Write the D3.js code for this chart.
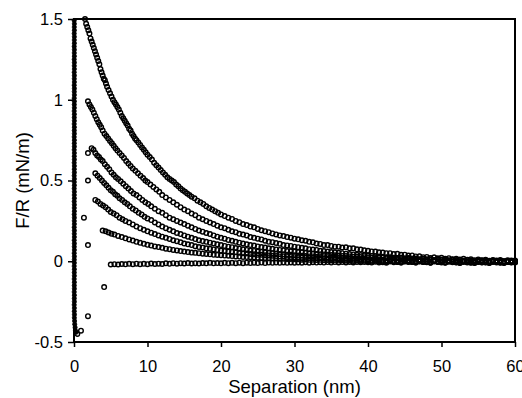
<!DOCTYPE html>
<html>
<head>
<meta charset="utf-8">
<script src="https://cdn.jsdelivr.net/npm/d3@7"></script>
<style>
  body { margin: 0; background: #fff; }
  svg { display: block; font-family: "Liberation Sans", Arial, sans-serif; }
</style>
</head>
<body>
<div id="chart"></div>
<script>
const xTicks = [0, 10, 20, 30, 40, 50, 60]
const yTicks = [-0.5, 0, 0.5, 1, 1.5]
const xLabel = "Separation (nm)"
const yLabel = "F/R (mN/m)"

// hard contact branch, [separation nm, F/R mN/m]
const contact = [[0.3,-0.44],[0.2,-0.43],[0.15,-0.41],[0.1,-0.39],[0.08,-0.37],[0.05,-0.35],[0.06,-0.33],[0.04,-0.31],[0.05,-0.29],[0.03,-0.27],[0.05,-0.25],[0.04,-0.23],[0.05,-0.21],[0.03,-0.19],[0.05,-0.17],[0.04,-0.15],[0.05,-0.13],[0.03,-0.11],[0.05,-0.09],[0.04,-0.07],[0.05,-0.05],[0.03,-0.03],[0.05,-0.01],[0.04,0.01],[0.05,0.03],[0.03,0.05],[0.05,0.07],[0.04,0.09],[0.05,0.11],[0.03,0.13],[0.05,0.15],[0.04,0.17],[0.05,0.19],[0.03,0.21],[0.05,0.23],[0.04,0.25],[0.05,0.27],[0.03,0.29],[0.05,0.31],[0.04,0.33],[0.05,0.35],[0.03,0.37],[0.05,0.39],[0.04,0.41],[0.05,0.43],[0.03,0.45],[0.05,0.47],[0.04,0.49],[0.05,0.51],[0.03,0.53],[0.05,0.55],[0.04,0.57],[0.05,0.59],[0.03,0.61],[0.05,0.63],[0.04,0.65],[0.05,0.67],[0.03,0.69],[0.05,0.71],[0.04,0.73],[0.05,0.75],[0.03,0.77],[0.05,0.79],[0.04,0.81],[0.05,0.83],[0.03,0.85],[0.05,0.87],[0.04,0.89],[0.05,0.91],[0.03,0.93],[0.05,0.95],[0.04,0.97],[0.05,0.99],[0.03,1.01],[0.05,1.03],[0.04,1.05],[0.05,1.07],[0.03,1.09],[0.05,1.11],[0.04,1.13],[0.05,1.15],[0.03,1.17],[0.05,1.19],[0.04,1.21],[0.05,1.23],[0.03,1.25],[0.05,1.27],[0.04,1.29],[0.05,1.31],[0.03,1.33],[0.05,1.35],[0.04,1.37],[0.05,1.39],[0.03,1.41],[0.05,1.43],[0.04,1.45],[0.05,1.47],[0.03,1.49]]

// isolated jump-in points
const jumpIn = [[1.9,0.67],[1.9,0.5],[1.35,0.27],[1.9,0.1],[4.1,-0.16],[1.9,-0.34],[0.95,-0.43],[0.45,-0.45]]

const curve1 = [[1.5,1.5],[1.65,1.47],[1.8,1.45],[1.95,1.43],[2.1,1.41],[2.25,1.38],[2.4,1.36],[2.55,1.34],[2.7,1.32],[2.85,1.3],[3.0,1.28],[3.15,1.26],[3.3,1.24],[3.45,1.22],[3.6,1.19],[3.75,1.17],[3.9,1.15],[4.05,1.13],[4.2,1.12],[4.35,1.1],[4.5,1.08],[4.7,1.06],[4.9,1.04],[5.1,1.02],[5.3,1.0],[5.5,0.985],[5.7,0.97],[5.9,0.955],[6.1,0.94],[6.3,0.92],[6.5,0.9],[6.7,0.885],[6.9,0.87],[7.1,0.855],[7.3,0.84],[7.5,0.82],[7.7,0.81],[7.9,0.79],[8.1,0.775],[8.3,0.76],[8.5,0.75],[8.75,0.735],[9.0,0.72],[9.25,0.705],[9.5,0.69],[9.75,0.675],[10.0,0.66],[10.3,0.645],[10.6,0.63],[10.9,0.61],[11.2,0.595],[11.5,0.58],[11.8,0.565],[12.1,0.55],[12.4,0.535],[12.7,0.52],[13.0,0.51],[13.3,0.5],[13.6,0.49],[13.9,0.475],[14.2,0.465],[14.5,0.45],[14.8,0.44],[15.1,0.43],[15.4,0.42],[15.7,0.41],[16.0,0.4],[16.4,0.39],[16.8,0.375],[17.2,0.365],[17.6,0.355],[18.0,0.34],[18.4,0.33],[18.8,0.32],[19.2,0.31],[19.6,0.3],[20.0,0.29],[20.5,0.28],[21.0,0.27],[21.5,0.262],[22.0,0.25],[22.5,0.242],[23.0,0.23],[23.5,0.224],[24.0,0.215],[24.5,0.21],[25.0,0.2],[25.5,0.192],[26.0,0.186],[26.5,0.18],[27.0,0.172],[27.5,0.166],[28.0,0.16],[28.5,0.156],[29.0,0.15],[29.5,0.146],[30.0,0.14],[30.5,0.136],[31.0,0.13],[31.5,0.127],[32.0,0.12],[32.5,0.117],[33.0,0.11],[33.5,0.107],[34.0,0.1],[34.5,0.1],[35.0,0.095],[35.5,0.09],[36.0,0.09],[36.5,0.085],[37.0,0.086],[37.5,0.08],[38.0,0.08],[38.5,0.074],[39.0,0.072],[39.5,0.068],[40.0,0.065],[40.5,0.061],[41.0,0.06],[41.5,0.055],[42.0,0.054],[42.5,0.05],[43.0,0.05],[43.5,0.045],[44.0,0.046],[44.5,0.04],[45.0,0.041],[45.5,0.035],[46.0,0.036],[46.5,0.03],[47.0,0.031],[47.5,0.025],[48.0,0.027],[48.5,0.02],[49.0,0.024],[49.5,0.018],[50.0,0.021],[50.5,0.015],[51.0,0.019],[51.5,0.013],[52.0,0.016],[52.5,0.011],[53.0,0.015],[53.5,0.009],[54.0,0.013],[54.5,0.006],[55.0,0.011],[55.5,0.005],[56.0,0.01],[56.5,0.003],[57.0,0.008],[57.5,0.002],[58.0,0.007],[58.5,0.001],[59.0,0.006],[59.5,0.0],[60.0,0.004]]

const curve2 = [[1.9,0.99],[2.1,0.97],[2.3,0.955],[2.5,0.94],[2.7,0.92],[2.9,0.9],[3.1,0.88],[3.3,0.86],[3.5,0.845],[3.7,0.83],[3.9,0.81],[4.15,0.79],[4.4,0.775],[4.65,0.76],[4.9,0.745],[5.15,0.73],[5.4,0.715],[5.65,0.7],[5.9,0.685],[6.2,0.67],[6.5,0.655],[6.8,0.64],[7.1,0.62],[7.4,0.605],[7.7,0.59],[8.0,0.575],[8.35,0.56],[8.7,0.545],[9.05,0.53],[9.4,0.515],[9.7,0.5],[10.0,0.49],[10.4,0.475],[10.8,0.46],[11.2,0.445],[11.6,0.43],[12.0,0.41],[12.5,0.395],[13.0,0.38],[13.5,0.365],[14.0,0.35],[14.5,0.335],[15.0,0.32],[15.5,0.31],[16.0,0.295],[16.5,0.285],[17.0,0.27],[17.5,0.26],[18.0,0.25],[18.5,0.24],[19.0,0.23],[19.5,0.22],[20.0,0.21],[20.5,0.205],[21.0,0.195],[21.5,0.185],[22.0,0.18],[22.5,0.17],[23.0,0.165],[23.5,0.16],[24.0,0.15],[24.5,0.145],[25.0,0.14],[25.5,0.135],[26.0,0.127],[26.5,0.12],[27.0,0.118],[27.5,0.113],[28.0,0.108],[28.5,0.1],[29.0,0.098],[29.5,0.095],[30.0,0.09],[30.5,0.087],[31.0,0.083],[31.5,0.08],[32.0,0.075],[32.5,0.072],[33.0,0.07],[33.5,0.065],[34.0,0.063],[34.5,0.06],[35.0,0.057],[35.5,0.055],[36.0,0.052],[36.5,0.05],[37.0,0.047],[37.5,0.045],[38.0,0.042],[38.5,0.04],[39.0,0.038],[39.5,0.037],[40.0,0.035],[40.5,0.033],[41.0,0.03],[41.5,0.03],[42.0,0.028],[42.5,0.025],[43.0,0.025],[43.5,0.022],[44.0,0.02],[44.5,0.022],[45.0,0.018],[45.5,0.02],[46.0,0.015],[46.5,0.017],[47.0,0.012],[47.5,0.015],[48.0,0.01],[48.5,0.013],[49.0,0.008],[49.5,0.012],[50.0,0.008],[50.5,0.01],[51.0,0.005],[51.5,0.01],[52.0,0.005],[52.5,0.008],[53.0,0.002],[53.5,0.007],[54.0,0.004],[54.5,0.0],[55.0,0.006],[55.5,0.002],[56.0,0.004],[56.5,-0.002],[57.0,0.004],[57.5,0.0],[58.0,0.003],[58.5,-0.003],[59.0,0.002],[59.5,0.0],[60.0,0.002]]

const curve3 = [[2.4,0.7],[2.65,0.69],[2.9,0.67],[3.15,0.655],[3.4,0.645],[3.65,0.63],[3.9,0.62],[4.2,0.6],[4.5,0.585],[4.8,0.57],[5.1,0.55],[5.4,0.535],[5.7,0.52],[6.0,0.51],[6.35,0.495],[6.7,0.48],[7.05,0.465],[7.4,0.45],[7.75,0.435],[8.1,0.42],[8.5,0.41],[8.9,0.395],[9.3,0.38],[9.7,0.365],[10.1,0.355],[10.5,0.34],[11.0,0.325],[11.5,0.31],[12.0,0.3],[12.5,0.285],[13.0,0.27],[13.5,0.26],[14.0,0.25],[14.5,0.24],[15.0,0.23],[15.5,0.22],[16.0,0.21],[16.5,0.2],[17.0,0.19],[17.5,0.183],[18.0,0.175],[18.5,0.168],[19.0,0.16],[19.5,0.152],[20.0,0.145],[20.5,0.14],[21.0,0.132],[21.5,0.127],[22.0,0.12],[22.5,0.115],[23.0,0.11],[23.5,0.105],[24.0,0.1],[24.5,0.097],[25.0,0.092],[25.5,0.088],[26.0,0.085],[26.5,0.08],[27.0,0.077],[27.5,0.073],[28.0,0.07],[28.5,0.067],[29.0,0.063],[29.5,0.062],[30.0,0.06],[30.5,0.057],[31.0,0.055],[31.5,0.052],[32.0,0.05],[32.5,0.048],[33.0,0.045],[33.5,0.044],[34.0,0.042],[34.5,0.04],[35.0,0.038],[35.5,0.037],[36.0,0.035],[36.5,0.033],[37.0,0.032],[37.5,0.03],[38.0,0.028],[38.5,0.028],[39.0,0.026],[39.5,0.025],[40.0,0.024],[40.5,0.021],[41,0.02],[41.5,0.023],[42,0.022],[42.5,0.018],[43,0.016],[43.5,0.02],[44,0.018],[44.5,0.013],[45,0.013],[45.5,0.017],[46,0.015],[46.5,0.01],[47,0.01],[47.5,0.014],[48,0.012],[48.5,0.007],[49,0.006],[49.5,0.012],[50,0.01],[50.5,0.004],[51,0.004],[51.5,0.009],[52,0.007],[52.5,0.001],[53,0.002],[53.5,0.008],[54,0.006],[54.5,-0.001],[55,0.0],[55.5,0.006],[56,0.004],[56.5,-0.003],[57,-0.002],[57.5,0.005],[58,0.003],[58.5,-0.003],[59,0.0],[59.5,0.004],[60,-0.002]]

const curve4 = [[2.9,0.545],[3.2,0.53],[3.5,0.515],[3.8,0.5],[4.1,0.485],[4.4,0.47],[4.7,0.455],[5.0,0.44],[5.3,0.43],[5.6,0.415],[5.9,0.405],[6.2,0.39],[6.55,0.38],[6.9,0.365],[7.25,0.355],[7.6,0.34],[8.0,0.325],[8.4,0.315],[8.8,0.3],[9.2,0.29],[9.6,0.275],[10.0,0.265],[10.5,0.255],[11.0,0.24],[11.5,0.228],[12.0,0.215],[12.5,0.205],[13.0,0.195],[13.5,0.185],[14.0,0.175],[14.5,0.168],[15.0,0.16],[15.5,0.152],[16.0,0.145],[16.5,0.137],[17.0,0.13],[17.5,0.125],[18.0,0.12],[18.5,0.115],[19.0,0.11],[19.5,0.105],[20.0,0.1],[20.5,0.095],[21.0,0.09],[21.5,0.087],[22.0,0.082],[22.5,0.078],[23.0,0.074],[23.5,0.07],[24.0,0.066],[24.5,0.064],[25.0,0.06],[25.5,0.058],[26.0,0.055],[26.5,0.052],[27.0,0.05],[27.5,0.048],[28.0,0.045],[28.5,0.043],[29.0,0.04],[29.5,0.04],[30.0,0.037],[30.5,0.035],[31.0,0.034],[31.5,0.032],[32.0,0.03],[32.5,0.03],[33.0,0.028],[33.5,0.026],[34.0,0.025],[34.5,0.025],[35.0,0.022],[35.5,0.022],[36.0,0.02],[36.5,0.02],[37.0,0.018],[37.5,0.018],[38.0,0.016],[38.5,0.017],[39.0,0.014],[39.5,0.015],[40.0,0.012],[40.5,0.009],[41,0.014],[41.5,0.011],[42,0.01],[42.5,0.006],[43,0.012],[43.5,0.009],[44,0.007],[44.5,0.003],[45,0.01],[45.5,0.006],[46,0.004],[46.5,0.0],[47,0.008],[47.5,0.004],[48,0.002],[48.5,-0.002],[49,0.006],[49.5,0.002],[50,0.0],[50.5,-0.004],[51,0.004],[51.5,0.0],[52,-0.002],[52.5,-0.005],[53,0.003],[53.5,-0.001],[54,-0.003],[54.5,-0.006],[55,0.002],[55.5,-0.002],[56,-0.004],[56.5,-0.007],[57,0.001],[57.5,-0.002],[58,-0.003],[58.5,-0.006],[59,0.0],[59.5,-0.003],[60,-0.004]]

const curve5 = [[2.9,0.38],[3.25,0.37],[3.6,0.355],[3.95,0.345],[4.3,0.335],[4.65,0.32],[5.0,0.305],[5.4,0.295],[5.8,0.285],[6.2,0.27],[6.6,0.26],[7.0,0.25],[7.5,0.24],[8.0,0.228],[8.5,0.215],[9.0,0.205],[9.5,0.195],[10.0,0.185],[10.5,0.177],[11.0,0.168],[11.5,0.16],[12.0,0.152],[12.5,0.145],[13.0,0.138],[13.5,0.13],[14.0,0.124],[14.5,0.117],[15.0,0.11],[15.5,0.105],[16.0,0.1],[16.5,0.093],[17.0,0.088],[17.5,0.085],[18.0,0.08],[18.5,0.077],[19.0,0.073],[19.5,0.07],[20.0,0.066],[20.5,0.063],[21.0,0.06],[21.5,0.058],[22.0,0.055],[22.5,0.052],[23.0,0.05],[23.5,0.048],[24.0,0.045],[24.5,0.043],[25.0,0.04],[25.5,0.04],[26.0,0.037],[26.5,0.036],[27.0,0.034],[27.5,0.032],[28.0,0.03],[28.5,0.03],[29.0,0.027],[29.5,0.027],[30.0,0.025],[30.5,0.024],[31.0,0.022],[31.5,0.022],[32.0,0.02],[32.5,0.02],[33.0,0.018],[33.5,0.018],[34.0,0.016],[34.5,0.016],[35.0,0.014],[35.5,0.015],[36.0,0.012],[36.5,0.013],[37.0,0.01],[37.5,0.012],[38.0,0.009],[38.5,0.01],[39.0,0.007],[39.5,0.009],[40.0,0.006],[40.5,0.003],[41,0.008],[41.5,0.005],[42,0.003],[42.5,0.0],[43,0.006],[43.5,0.002],[44,0.0],[44.5,-0.003],[45,0.004],[45.5,0.0],[46,-0.002],[46.5,-0.005],[47,0.003],[47.5,-0.001],[48,-0.004],[48.5,-0.007],[49,0.001],[49.5,-0.003],[50,-0.005],[50.5,-0.008],[51,0.0],[51.5,-0.004],[52,-0.006],[52.5,-0.009],[53,-0.002],[53.5,-0.005],[54,-0.007],[54.5,-0.01],[55,-0.003],[55.5,-0.006],[56,-0.006],[56.5,-0.009],[57,-0.002],[57.5,-0.005],[58,-0.007],[58.5,-0.009],[59,-0.003],[59.5,-0.006],[60,-0.006]]

const curve6 = [[3.9,0.19],[4.3,0.185],[4.7,0.178],[5.1,0.17],[5.5,0.165],[6.0,0.157],[6.5,0.15],[7.0,0.142],[7.5,0.135],[8.0,0.128],[8.5,0.12],[9.0,0.114],[9.5,0.108],[10.0,0.102],[10.5,0.097],[11.0,0.092],[11.5,0.088],[12.0,0.083],[12.5,0.078],[13.0,0.075],[13.5,0.07],[14.0,0.067],[14.5,0.063],[15.0,0.06],[15.5,0.057],[16.0,0.054],[16.5,0.052],[17.0,0.05],[17.5,0.047],[18.0,0.045],[18.5,0.043],[19.0,0.04],[19.5,0.039],[20.0,0.037],[20.5,0.035],[21.0,0.034],[21.5,0.032],[22.0,0.03],[22.5,0.029],[23.0,0.027],[23.5,0.026],[24.0,0.025],[24.5,0.024],[25.0,0.022],[25.5,0.021],[26.0,0.02],[26.5,0.019],[27.0,0.018],[27.5,0.017],[28.0,0.016],[28.5,0.015],[29.0,0.014],[29.5,0.014],[30.0,0.012],[30.5,0.012],[31.0,0.01],[31.5,0.011],[32.0,0.009],[32.5,0.01],[33.0,0.008],[33.5,0.009],[34.0,0.006],[34.5,0.008],[35.0,0.005],[35.5,0.007],[36.0,0.004],[36.5,0.006],[37.0,0.003],[37.5,0.005],[38.0,0.002],[38.5,0.004],[39.0,0.001],[39.5,0.003],[40.0,0.0],[40.5,-0.003],[41,0.003],[41.5,0.0],[42,-0.002],[42.5,-0.005],[43,0.002],[43.5,-0.002],[44,-0.004],[44.5,-0.007],[45,0.0],[45.5,-0.003],[46,-0.005],[46.5,-0.008],[47,-0.001],[47.5,-0.004],[48,-0.006],[48.5,-0.009],[49,-0.002],[49.5,-0.005],[50,-0.007],[50.5,-0.01],[51,-0.003],[51.5,-0.006],[52,-0.008],[52.5,-0.011],[53,-0.004],[53.5,-0.007],[54,-0.009],[54.5,-0.011],[55,-0.004],[55.5,-0.007],[56,-0.008],[56.5,-0.011],[57,-0.004],[57.5,-0.007],[58,-0.009],[58.5,-0.011],[59,-0.005],[59.5,-0.007],[60,-0.008]]

const curve7 = [[5.0,-0.02],[5.5,-0.018],[6.0,-0.02],[6.5,-0.017],[7.0,-0.019],[7.5,-0.016],[8.0,-0.018],[8.5,-0.015],[9.0,-0.018],[9.5,-0.016],[10.0,-0.018],[10.5,-0.014],[11.0,-0.017],[11.5,-0.015],[12.0,-0.017],[12.5,-0.013],[13.0,-0.016],[13.5,-0.012],[14.0,-0.015],[14.5,-0.012],[15.0,-0.014],[15.5,-0.011],[16.0,-0.014],[16.5,-0.012],[17.0,-0.014],[17.5,-0.011],[18.0,-0.013],[18.5,-0.01],[19.0,-0.013],[19.5,-0.011],[20.0,-0.013],[20.5,-0.01],[21.0,-0.012],[21.5,-0.01],[22.0,-0.012],[22.5,-0.009],[23.0,-0.012],[23.5,-0.009],[24.0,-0.011],[24.5,-0.009],[25.0,-0.011],[25.5,-0.008],[26.0,-0.011],[26.5,-0.008],[27.0,-0.01],[27.5,-0.008],[28.0,-0.01],[28.5,-0.007],[29.0,-0.01],[29.5,-0.007],[30.0,-0.009],[30.5,-0.007],[31.0,-0.009],[31.5,-0.006],[32.0,-0.009],[32.5,-0.006],[33.0,-0.008],[33.5,-0.006],[34.0,-0.008],[34.5,-0.005],[35.0,-0.008],[35.5,-0.005],[36.0,-0.007],[36.5,-0.005],[37.0,-0.007],[37.5,-0.004],[38.0,-0.007],[38.5,-0.004],[39.0,-0.006],[39.5,-0.004],[40.0,-0.006],[40.5,-0.008],[41,-0.003],[41.5,-0.007],[42,-0.006],[42.5,-0.009],[43,-0.002],[43.5,-0.006],[44,-0.005],[44.5,-0.008],[45,-0.001],[45.5,-0.005],[46,-0.005],[46.5,-0.008],[47,0.0],[47.5,-0.004],[48,-0.004],[48.5,-0.007],[49,0.001],[49.5,-0.003],[50,-0.003],[50.5,-0.006],[51,0.002],[51.5,-0.002],[52,-0.003],[52.5,-0.006],[53,0.001],[53.5,-0.003],[54,-0.002],[54.5,-0.005],[55,0.002],[55.5,-0.002],[56,-0.003],[56.5,-0.005],[57,0.001],[57.5,-0.002],[58,-0.002],[58.5,-0.005],[59,0.002],[59.5,-0.002],[60,-0.001]]

const openSeries = [jumpIn, curve1, curve2, curve3, curve4, curve5, curve6, curve7]

const dimensions = {
  width: 522,
  height: 398,
  margin: { top: 19, right: 7, bottom: 56, left: 74 },
  boundedWidth: 0,
  boundedHeight: 0
}
dimensions.boundedWidth = dimensions.width - dimensions.margin.left - dimensions.margin.right
dimensions.boundedHeight = dimensions.height - dimensions.margin.top - dimensions.margin.bottom

const svg = d3.select("#chart")
  .append("svg")
    .attr("width", dimensions.width)
    .attr("height", dimensions.height)

const bounds = svg.append("g")
  .attr("transform", `translate(${dimensions.margin.left},${dimensions.margin.top})`)

const xScale = d3.scaleLinear()
  .domain([0, 60])
  .range([0, dimensions.boundedWidth])

const yScale = d3.scaleLinear()
  .domain([-0.5, 1.5])
  .range([dimensions.boundedHeight, 0])

// open circles for the approach curves
bounds.append("g")
  .selectAll("g")
  .data(openSeries)
  .join("g")
  .selectAll("circle")
  .data(d => d)
  .join("circle")
    .attr("cx", d => xScale(d[0]))
    .attr("cy", d => yScale(d[1]))
    .attr("r", 2.3)
    .attr("fill", "none")
    .attr("stroke", "#000")
    .attr("stroke-width", 1.4)

// contact branch looks like solid beads
bounds.append("g")
  .selectAll("circle")
  .data(contact)
  .join("circle")
    .attr("cx", d => xScale(d[0]))
    .attr("cy", d => yScale(d[1]))
    .attr("r", 2.1)
    .attr("fill", "#000")
    .attr("stroke", "#000")
    .attr("stroke-width", 0.8)

// axes
const xAxis = bounds.append("g")
  .attr("transform", `translate(0,${dimensions.boundedHeight})`)
  .call(d3.axisBottom(xScale).tickValues(xTicks).tickSize(5).tickPadding(13).tickFormat(d => String(d)))
xAxis.select(".domain").remove()

const yAxis = bounds.append("g")
  .call(d3.axisLeft(yScale).tickValues(yTicks).tickSize(6).tickPadding(5).tickFormat(d => String(d)))
yAxis.select(".domain").remove()

bounds.selectAll(".tick line").attr("stroke", "#000").attr("stroke-width", 1.5)
bounds.selectAll(".tick text")
  .attr("fill", "#000")
  .style("font-family", "'Liberation Sans', Arial, sans-serif")
  .style("font-size", "16.5px")

// frame
bounds.append("rect")
  .attr("x", 0)
  .attr("y", 0)
  .attr("width", dimensions.boundedWidth)
  .attr("height", dimensions.boundedHeight)
  .attr("fill", "none")
  .attr("stroke", "#000")
  .attr("stroke-width", 2)

// axis titles
svg.append("text")
  .attr("x", dimensions.margin.left + dimensions.boundedWidth / 2)
  .attr("y", 393)
  .attr("text-anchor", "middle")
  .style("font-size", "18.5px")
  .text(xLabel)

svg.append("text")
  .attr("transform", `translate(29,${dimensions.margin.top + dimensions.boundedHeight / 2}) rotate(-90)`)
  .attr("text-anchor", "middle")
  .style("font-size", "18.5px")
  .text(yLabel)
</script>
</body>
</html>
